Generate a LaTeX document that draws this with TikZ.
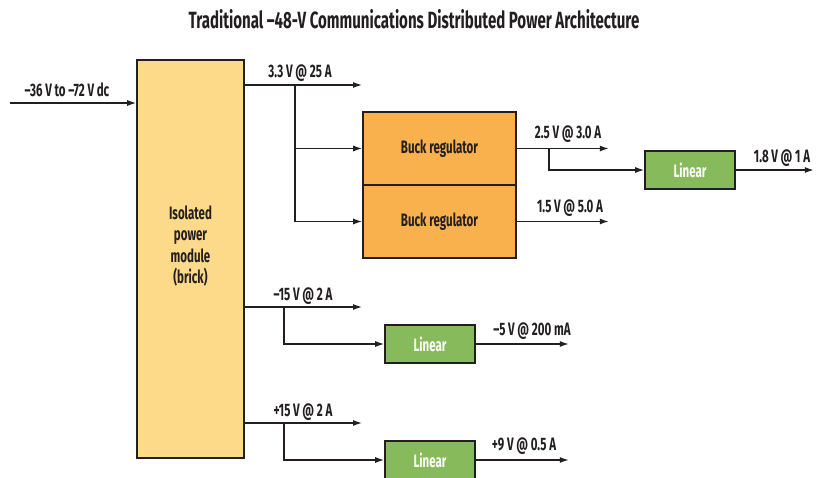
\documentclass[tikz,border=0pt]{standalone}
\usepackage{fontspec}
\setmainfont{Fira Sans}[FakeStretch=0.64]
\usepackage{tikz}
\usetikzlibrary{arrows.meta,positioning}
\definecolor{BrickFill}{HTML}{FDDA8A}
\definecolor{BuckFill}{HTML}{F9B14D}
\definecolor{LinFill}{HTML}{86BA5A}
\definecolor{InkCol}{HTML}{231F20}
\newcommand{\lbl}{\fontsize{18}{21.5}\selectfont\bfseries}

\begin{document}
\begin{tikzpicture}[x=1pt,y=-1pt,
  box/.style={draw=InkCol,line width=1.6pt,inner sep=0pt,font=\lbl,text=InkCol},
  buck/.style={box,fill=BuckFill,minimum width=153pt,minimum height=73pt},
  linbox/.style={box,fill=LinFill,text=white,minimum width=90pt,minimum height=38pt},
  arr/.style={-{Latex[length=9pt,width=6pt]},line width=1.3pt,InkCol},
  tag/.style={anchor=base,font=\lbl,text=InkCol,inner sep=0pt}]
  \useasboundingbox (0,0) rectangle (819,478);
  \clip (0,0) rectangle (819,478);
  \node[anchor=base,font=\fontsize{23.5}{26}\selectfont\bfseries,text=InkCol] (title) at (414,29)
    {Traditional –48-V Communications Distributed Power Architecture};
  \node[box,fill=BrickFill,minimum width=107pt,minimum height=398pt] (brick) at (190.5,259) {};
  \node[align=center,font=\lbl,text=InkCol,inner sep=0pt] (bricktxt) at (190.5,246)
    {Isolated\\power\\module\\(brick)};
  \node[buck] (buckA) at (439.5,148.5) {Buck regulator};
  \node[buck] (buckB) at (439.5,221.5) {Buck regulator};
  \node[linbox] (linA) at (690,170) {Linear};
  \node[linbox] (linB) at (430,344) {Linear};
  \node[linbox] (linC) at (430,460) {Linear};
  \coordinate (vin) at (10,103);
  \draw[arr] (vin) -- (vin -| brick.west);
  \node[tag] (vintxt) at (67,97) {–36 V to –72 V dc};
  \coordinate (o33) at (362,85);
  \coordinate (j33) at (295,85);
  \draw[arr] (brick.east |- o33) -- (o33);
  \draw[arr] (j33) |- (buckA.west);
  \draw[arr] (j33) |- (buckB.west);
  \node[tag] (o33txt) at (300,78) {3.3 V @ 25 A};
  \draw[arr] (buckA.east) -- ++(92,0) coordinate (o25);
  \coordinate (j25) at (549,148.5);
  \draw[arr] (j25) |- (linA.west);
  \node[tag] (o25txt) at (568,139) {2.5 V @ 3.0 A};
  \draw[arr] (linA.east) -- ++(78,0) coordinate (o18);
  \node[tag] (o18txt) at (782,163) {1.8 V @ 1 A};
  \draw[arr] (buckB.east) -- ++(92,0) coordinate (o15);
  \node[tag] (o15txt) at (570,213) {1.5 V @ 5.0 A};
  \coordinate (m15) at (362,307);
  \coordinate (jm15) at (284,307);
  \draw[arr] (brick.east |- m15) -- (m15);
  \draw[arr] (jm15) |- (linB.west);
  \node[tag] (m15txt) at (303,301) {–15 V @ 2 A};
  \draw[arr] (linB.east) -- ++(93,0) coordinate (m5);
  \node[tag] (m5txt) at (532,335) {–5 V @ 200 mA};
  \coordinate (p15) at (362,423);
  \coordinate (jp15) at (284,423);
  \draw[arr] (brick.east |- p15) -- (p15);
  \draw[arr] (jp15) |- (linC.west);
  \node[tag] (p15txt) at (303,416) {+15 V @ 2 A};
  \draw[arr] (linC.east) -- ++(93,0) coordinate (p9);
  \node[tag] (p9txt) at (524,450) {+9 V @ 0.5 A};
\end{tikzpicture}
\end{document}
